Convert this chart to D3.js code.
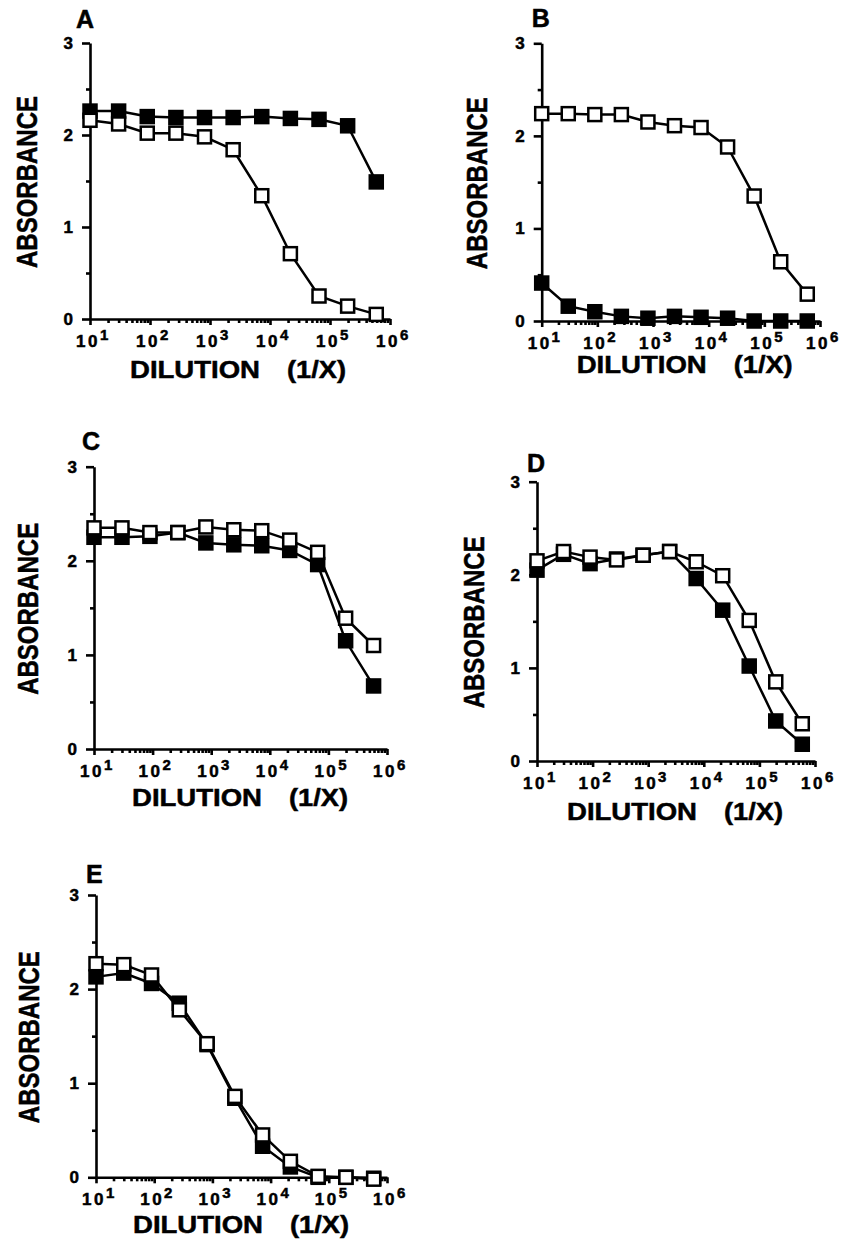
<!DOCTYPE html>
<html>
<head>
<meta charset="utf-8">
<script src="https://cdn.jsdelivr.net/npm/d3@7"></script>
<style>
  body { margin: 0; background: #fff; }
  svg { display: block; font-family: "Liberation Sans", Arial, Helvetica, sans-serif; font-weight: bold; }
  svg text { stroke: #000; stroke-width: 0.5; }
  .axis path, .axis line { stroke: #000; stroke-width: 2.6; }
</style>
</head>
<body>
<svg class="chart"></svg>
<script>
// 3-fold serial dilutions, same for every panel
const dilution = [10, 30, 90, 270, 810, 2430, 7290, 21870, 65610, 196830, 590490]

const decades = [1e1, 1e2, 1e3, 1e4, 1e5, 1e6]
const decadeExp = ['1', '2', '3', '4', '5', '6']
const yMajor = [0, 1, 2, 3]
const yMinor = [0.5, 1.5, 2.5]

const panelNames = ['A', 'B', 'C', 'D', 'E']

const filledA = [2.26, 2.26, 2.20, 2.19, 2.19, 2.19, 2.20, 2.18, 2.17, 2.10, 1.49]
const openA = [2.16, 2.12, 2.02, 2.02, 1.98, 1.84, 1.34, 0.71, 0.25, 0.14, 0.05]

const filledB = [0.41, 0.16, 0.10, 0.05, 0.03, 0.05, 0.04, 0.03, 0.00, 0.00, 0.00]
const openB = [2.24, 2.24, 2.23, 2.23, 2.15, 2.11, 2.09, 1.88, 1.35, 0.64, 0.29]

const filledC = [2.25, 2.25, 2.26, 2.30, 2.19, 2.17, 2.16, 2.11, 1.96, 1.15, 0.67]
const openC = [2.35, 2.35, 2.30, 2.30, 2.36, 2.33, 2.32, 2.22, 2.09, 1.39, 1.10]

const filledD = [2.05, 2.22, 2.12, 2.17, 2.21, 2.25, 1.96, 1.62, 1.02, 0.43, 0.18]
const openD = [2.15, 2.25, 2.19, 2.16, 2.21, 2.25, 2.14, 1.99, 1.51, 0.85, 0.40]

const filledE = [2.13, 2.17, 2.06, 1.85, 1.41, 0.84, 0.33, 0.11, 0.00, 0.00, -0.01]
const openE = [2.27, 2.26, 2.15, 1.78, 1.42, 0.86, 0.45, 0.17, 0.01, 0.00, -0.02]

const seriesByPanel = {
  A: [filledA, openA],
  B: [filledB, openB],
  C: [filledC, openC],
  D: [filledD, openD],
  E: [filledE, openE],
}

const layout = {
  A: { x0: 90, x1: 390, yTop: 43, yBot: 319, lab: [-14, -15], titleDy: 59, titleDx: 40, yTitleDx: -53 },
  B: { x0: 541.7, x1: 820, yTop: 43.3, yBot: 321, lab: [-10, -16], titleDy: 52, titleDx: 35, yTitleDx: -55 },
  C: { x0: 94, x1: 387, yTop: 466.7, yBot: 749, lab: [-12, -17], titleDy: 57, titleDx: 38, yTitleDx: -56 },
  D: { x0: 537, x1: 815, yTop: 481.7, yBot: 761, lab: [-10, -10], titleDy: 59, titleDx: 30, yTitleDx: -53 },
  E: { x0: 96, x1: 387, yTop: 895, yBot: 1177.3, lab: [-10, -12], titleDy: 56, titleDx: 37, yTitleDx: -57 },
}

const chart = d3.select('.chart')
  .attr('width', 844)
  .attr('height', 1247)

const minorTicks = []
for (let e = 1; e < 6; e++) {
  for (let m = 2; m <= 9; m++) minorTicks.push(m * Math.pow(10, e))
}

const drawPanel = (name) => {
  const L = layout[name]
  const [filled, open] = seriesByPanel[name]
  const g = chart.append('g').attr('class', `panel panel-${name}`)

  const x = d3.scaleLog().domain([10, 1e6]).range([L.x0, L.x1])
  const y = d3.scaleLinear().domain([0, 3]).range([L.yBot, L.yTop])

  // x axis: minor ticks then decade ticks
  g.append('g').attr('class', 'axis')
    .attr('transform', `translate(0,${L.yBot})`)
    .call(d3.axisBottom(x).tickValues(minorTicks).tickSize(4).tickSizeOuter(0).tickFormat(''))
    .call(a => a.selectAll('.tick line').attr('stroke-width', 2))
  g.append('g').attr('class', 'axis')
    .attr('transform', `translate(0,${L.yBot})`)
    .call(d3.axisBottom(x).tickValues(decades).tickSize(6).tickSizeOuter(0).tickFormat(''))
    .call(a => a.select('.domain').remove())

  // decade labels with superscripts
  const xl = g.append('g')
    .selectAll('text')
    .data(decades)
    .enter()
    .append('text')
    .attr('x', d => x(d) - 14)
    .attr('y', L.yBot + 28)
    .attr('font-size', 17)
    .attr('letter-spacing', 2.5)
  xl.append('tspan').text('10')
  xl.append('tspan')
    .attr('dx', 0)
    .attr('dy', -7)
    .attr('font-size', 15)
    .text((d, i) => decadeExp[i])

  // y axis
  g.append('g').attr('class', 'axis')
    .attr('transform', `translate(${L.x0},0)`)
    .call(d3.axisLeft(y).tickValues(yMinor).tickSize(4).tickSizeOuter(0).tickFormat(''))
  g.append('g').attr('class', 'axis')
    .attr('transform', `translate(${L.x0},0)`)
    .call(d3.axisLeft(y).tickValues(yMajor).tickSize(8).tickPadding(9).tickSizeOuter(0).tickFormat(d3.format('d')))
    .call(a => a.select('.domain').remove())
    .call(a => a.selectAll('text')
      .attr('font-size', 17)
      .attr('font-weight', 'bold')
      .attr('font-family', '"Liberation Sans", Arial, sans-serif')
      .attr('fill', '#000'))

  // titles
  g.append('text')
    .attr('x', L.x0 + L.lab[0])
    .attr('y', L.yTop + L.lab[1])
    .attr('font-size', 25)
    .text(name)

  const ty = L.yBot + L.titleDy
  g.append('text')
    .attr('x', L.x0 + L.titleDx)
    .attr('y', ty)
    .attr('font-size', 24)
    .attr('textLength', 130)
    .attr('lengthAdjust', 'spacingAndGlyphs')
    .text('DILUTION')
  g.append('text')
    .attr('x', L.x0 + L.titleDx + 157)
    .attr('y', ty)
    .attr('font-size', 24)
    .attr('textLength', 59)
    .attr('lengthAdjust', 'spacingAndGlyphs')
    .text('(1/X)')

  const cy = (L.yTop + L.yBot) / 2 + 1
  g.append('text')
    .attr('transform', `translate(${L.x0 + L.yTitleDx},${cy}) rotate(-90)`)
    .attr('text-anchor', 'middle')
    .attr('font-size', 29)
    .attr('textLength', 172)
    .attr('lengthAdjust', 'spacingAndGlyphs')
    .text('ABSORBANCE')

  // series: filled first, open drawn on top
  const line = d3.line()
    .x((d, i) => x(dilution[i]))
    .y(d => y(d))
  const size = 13
  ;[[filled, '#000'], [open, '#fff']].forEach(([values, fill]) => {
    g.append('path')
      .attr('d', line(values))
      .attr('fill', 'none')
      .attr('stroke', '#000')
      .attr('stroke-width', 2.5)
    g.append('g')
      .selectAll('rect')
      .data(values)
      .enter()
      .append('rect')
      .attr('x', (d, i) => x(dilution[i]) - size / 2)
      .attr('y', d => y(d) - size / 2)
      .attr('width', size)
      .attr('height', size)
      .attr('fill', fill)
      .attr('stroke', '#000')
      .attr('stroke-width', 2.5)
  })
}

panelNames.forEach(drawPanel)
</script>
</body>
</html>
